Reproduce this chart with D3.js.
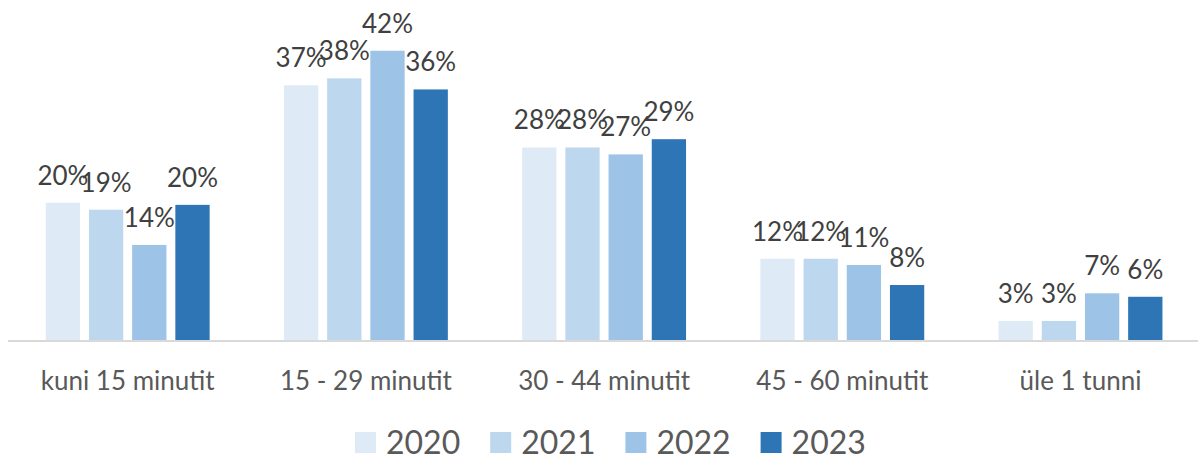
<!DOCTYPE html>
<html>
<head>
<meta charset="utf-8">
<script src="https://cdn.jsdelivr.net/npm/d3@7"></script>
<style>
  body { margin: 0; background: #fff; }
  text { font-family: Lato, "Noto Sans", sans-serif; }
</style>
</head>
<body>
<div id="chart"></div>
<script>
const categories = ["kuni 15 minutit", "15 - 29 minutit", "30 - 44 minutit", "45 - 60 minutit", "üle 1 tunni"];
const years = ["2020", "2021", "2022", "2023"];
const values2020 = [20.0, 37.0, 28.0, 11.9, 2.9];
const values2021 = [19.0, 38.0, 28.0, 11.9, 2.9];
const values2022 = [13.9, 42.0, 27.0, 11.0, 6.9];
const values2023 = [19.7, 36.4, 29.2, 8.1, 6.4];
const colors = ["#DEEBF7", "#BDD7EE", "#9DC3E6", "#2E75B6"];

const series = [values2020, values2021, values2022, values2023];

const width = 1198,
    height = 459,
    baseY = 341;

const svg = d3.select("#chart")
    .append("svg")
    .attr("width", width)
    .attr("height", height);

const x0 = d3.scaleBand()
    .domain(categories)
    .range([8.6, 1199.6]);

const x1 = d3.scaleBand()
    .domain(years)
    .range([0, x0.bandwidth()])
    .paddingInner(0.206)
    .paddingOuter(0.86);

const y = d3.scaleLinear()
    .domain([0, 45])
    .range([baseY, 30]);

const color = d3.scaleOrdinal().domain(years).range(colors);

// one record per bar
const bars = [];
categories.forEach(function(c, i) {
  years.forEach(function(yr, j) {
    bars.push({cat: c, year: yr, value: series[j][i]});
  });
});

svg.selectAll("rect.bar")
  .data(bars)
  .enter()
    .append("rect")
    .attr("class", "bar")
    .attr("x", d => x0(d.cat) + x1(d.year))
    .attr("y", d => y(d.value))
    .attr("width", x1.bandwidth())
    .attr("height", d => baseY - y(d.value))
    .attr("fill", d => color(d.year));

// axis line
svg.append("line")
    .attr("x1", 8)
    .attr("x2", width)
    .attr("y1", baseY)
    .attr("y2", baseY)
    .attr("stroke", "#D9D9D9")
    .attr("stroke-width", 2);

// data labels
svg.selectAll("text.label")
  .data(bars)
  .enter()
    .append("text")
    .attr("class", "label")
    .attr("x", d => x0(d.cat) + x1(d.year) + x1.bandwidth() / 2)
    .attr("y", d => y(d.value) - 18)
    .attr("text-anchor", "middle")
    .attr("fill", "#404040")
    .style("font-size", "26px")
    .text(d => Math.round(d.value) + "%");

// category labels
svg.selectAll("text.cat")
  .data(categories)
  .enter()
    .append("text")
    .attr("class", "cat")
    .attr("x", d => x0(d) + x0.bandwidth() / 2)
    .attr("y", 389.5)
    .attr("text-anchor", "middle")
    .attr("fill", "#595959")
    .style("font-size", "26px")
    .text(d => d);

// legend
const legend = svg.selectAll("g.legend")
  .data(years)
  .enter()
    .append("g")
    .attr("class", "legend")
    .attr("transform", (d, i) => "translate(" + (355 + i * 135.2) + ",432)");

legend.append("rect")
    .attr("width", 21)
    .attr("height", 21)
    .attr("fill", d => color(d));

legend.append("text")
    .attr("x", 31)
    .attr("y", 21.5)
    .attr("fill", "#595959")
    .style("font-size", "32px")
    .text(d => d);
</script>
</body>
</html>
